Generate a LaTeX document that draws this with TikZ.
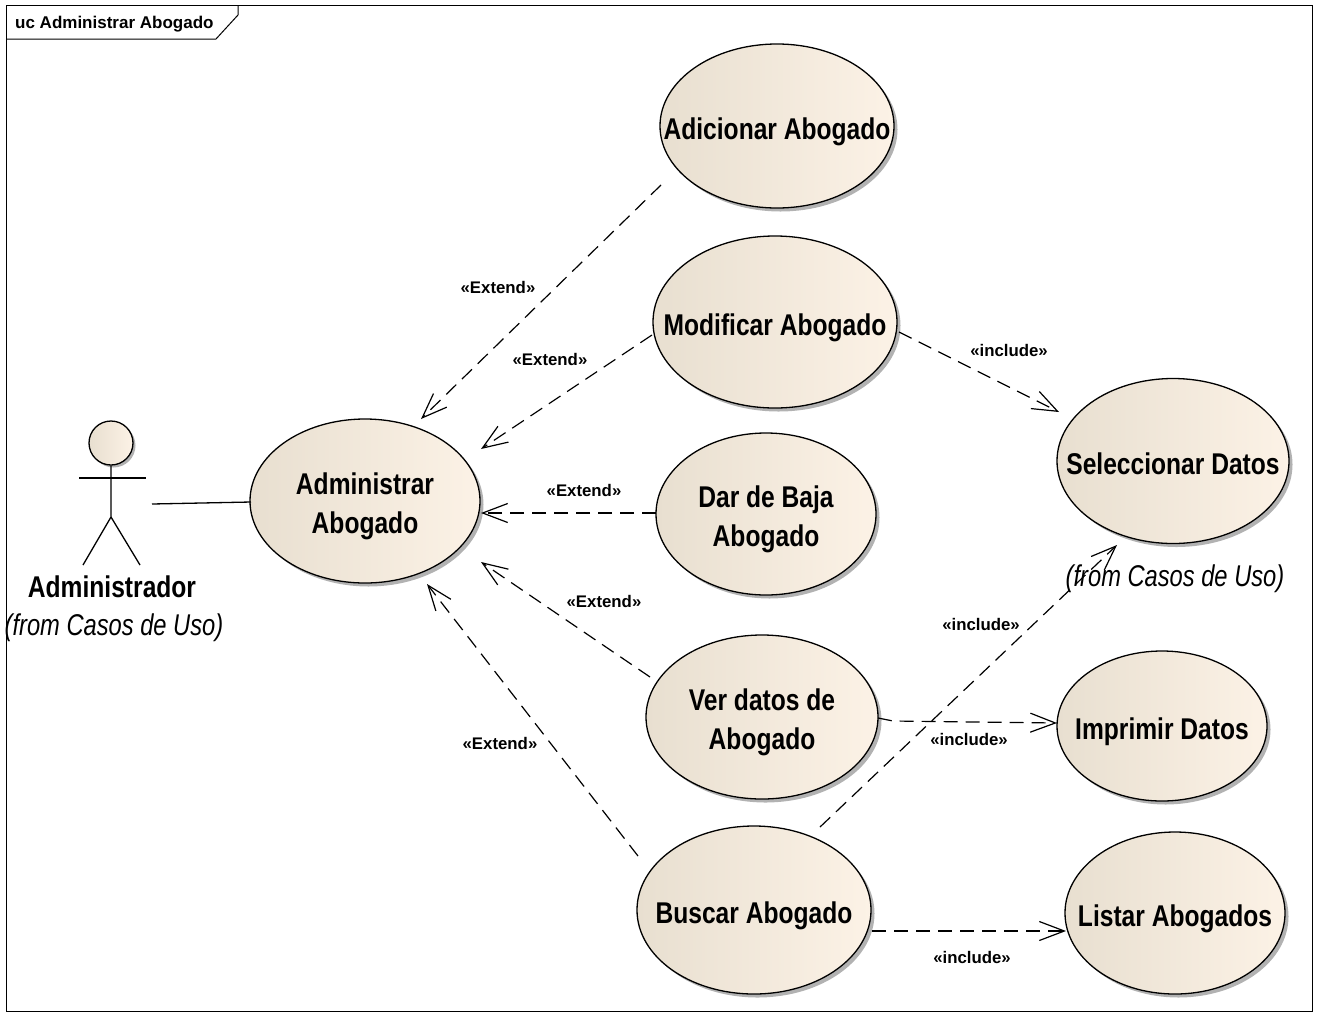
\documentclass[tikz,border=0pt]{standalone}
\usepackage{fontspec}
\usepackage{mathtools}
\setmainfont{Liberation Sans}
\newfontfamily\narrowfont[FakeStretch=0.82]{Liberation Sans}
\newfontfamily\fromfont[FakeStretch=0.79]{Liberation Sans}
\usetikzlibrary{shapes.geometric,arrows.meta,shadows}
\definecolor{caseDark}{HTML}{E8DFD0}
\definecolor{caseMid}{HTML}{F6EDDF}
\definecolor{caseLight}{HTML}{FCF2E6}
\newcommand{\casetext}[1]{\makebox[0pt]{\begin{tabular}{@{}c@{}}\noalign{\vskip 11pt}#1\end{tabular}}}
\tikzset{
  usecase/.style={draw,ellipse,line width=1.3pt,inner sep=0pt,left color=caseDark,middle color=caseMid,right color=caseLight,
    general shadow={shadow xshift=3.5pt,shadow yshift=-3.5pt,fill=black!30},
    font=\narrowfont\bfseries\fontsize{30}{39}\selectfont},
  fromtext/.style={inner sep=0pt,font=\fromfont\itshape\fontsize{30}{36}\selectfont},
  stereotype/.style={inner sep=0pt,font=\bfseries\fontsize{16.8}{20}\selectfont},
  depends/.style={line width=1.2pt,dash pattern=on 14pt off 8pt,-{Straight Barb[length=25pt,width=19pt,line width=1.2pt]}},
  actorline/.style={line width=1.3pt}
}
\begin{document}
\begin{tikzpicture}[x=1pt,y=-1pt]
\useasboundingbox (0,0) rectangle (1319,1015);
\draw[line width=1pt] (6,5) rectangle (1312,1011);
\draw[line width=1pt] (6,39) -- (216,39) -- (238,15) -- (238,5);
\node[anchor=west,inner sep=0pt,font=\bfseries\fontsize{17}{20}\selectfont] (frameTitle) at (15,24) {uc Administrar Abogado};

\node[usecase,minimum width=234pt,minimum height=164pt] (adicionar) at (777,126) {\casetext{Adicionar Abogado}};
\node[usecase,minimum width=244pt,minimum height=172pt] (modificar) at (775,322) {\casetext{Modificar Abogado}};
\node[usecase,minimum width=220pt,minimum height=162pt] (darBaja) at (766,514) {\casetext{Dar de Baja\\Abogado}};
\node[usecase,minimum width=232pt,minimum height=164pt] (verDatos) at (762,717) {\casetext{Ver datos de\\Abogado}};
\node[usecase,minimum width=234pt,minimum height=168pt] (buscar) at (754,910) {\casetext{Buscar Abogado}};
\node[usecase,minimum width=230pt,minimum height=164pt] (administrar) at (365,501) {\casetext{Administrar\\Abogado}};
\node[usecase,minimum width=232pt,minimum height=165pt] (seleccionar) at (1173,461) {\casetext{Seleccionar Datos}};
\node[usecase,minimum width=210pt,minimum height=150pt] (imprimir) at (1162,726) {\casetext{Imprimir Datos}};
\node[usecase,minimum width=220pt,minimum height=162pt] (listar) at (1175,913) {\casetext{Listar Abogados}};
\node[fromtext] (seleccionarFrom) at (1175,579) {(from Casos de Uso)};

\node[circle,draw,line width=1.3pt,minimum size=44pt,inner sep=0pt,left color=caseDark,middle color=caseMid,right color=caseLight,
  general shadow={shadow xshift=2.5pt,shadow yshift=-2.5pt,fill=black!30}] (actorHead) at (111,443) {};
\coordinate (actorHip) at (111,517);
\coordinate (actorArmL) at (79,478);
\coordinate (actorArmR) at (146,478);
\coordinate (actorFootL) at (83,565);
\coordinate (actorFootR) at (140,565);
\coordinate (actorSide) at (152,504);
\draw[actorline] (actorHead) -- (actorHip) -- (actorFootL);
\draw[actorline] (actorHip) -- (actorFootR);
\draw[actorline] (actorArmL) -- (actorArmR);
\node[inner sep=0pt,font=\narrowfont\bfseries\fontsize{30}{36}\selectfont] (actorName) at (112,587) {Administrador};
\node[fromtext] (actorFrom) at (114,628) {(from Casos de Uso)};
\draw[actorline] (actorSide) -- ([shift={(-114,1)}]administrar.center);

\draw[depends] ([shift={(-116,59)}]adicionar.center) -- ([shift={(56,-82)}]administrar.center);
\draw[depends] ([shift={(-123,13)}]modificar.center) -- ([shift={(116,-52)}]administrar.center);
\draw[depends] ([shift={(-110,-1)}]darBaja.center) -- ([shift={(116,12)}]administrar.center);
\draw[depends] ([shift={(-112,-40)}]verDatos.center) -- ([shift={(116,61)}]administrar.center);
\draw[depends] ([shift={(-116,-54)}]buscar.center) -- ([shift={(62,83)}]administrar.center);
\draw[depends] ([shift={(124,10)}]modificar.center) -- ([shift={(-114,-49)}]seleccionar.center);
\draw[depends] ([shift={(66,-83)}]buscar.center) -- ([shift={(-56,84)}]seleccionar.center);
\draw[depends] ([shift={(116,1)}]verDatos.center) -- ([shift={(131,4)}]verDatos.center) -- ([shift={(-105,-3)}]imprimir.center);
\draw[depends] ([shift={(118,21)}]buscar.center) -- ([shift={(-109,18)}]listar.center);

\node[stereotype] (extendA) at (498,287) {«Extend»};
\node[stereotype] (extendB) at (550,359) {«Extend»};
\node[stereotype] (extendC) at (584,490) {«Extend»};
\node[stereotype] (extendD) at (604,601) {«Extend»};
\node[stereotype] (extendE) at (500,743) {«Extend»};
\node[stereotype] (includeA) at (1009,350) {«include»};
\node[stereotype] (includeB) at (981,624) {«include»};
\node[stereotype] (includeC) at (969,739) {«include»};
\node[stereotype] (includeD) at (972,957) {«include»};
\end{tikzpicture}
\end{document}
